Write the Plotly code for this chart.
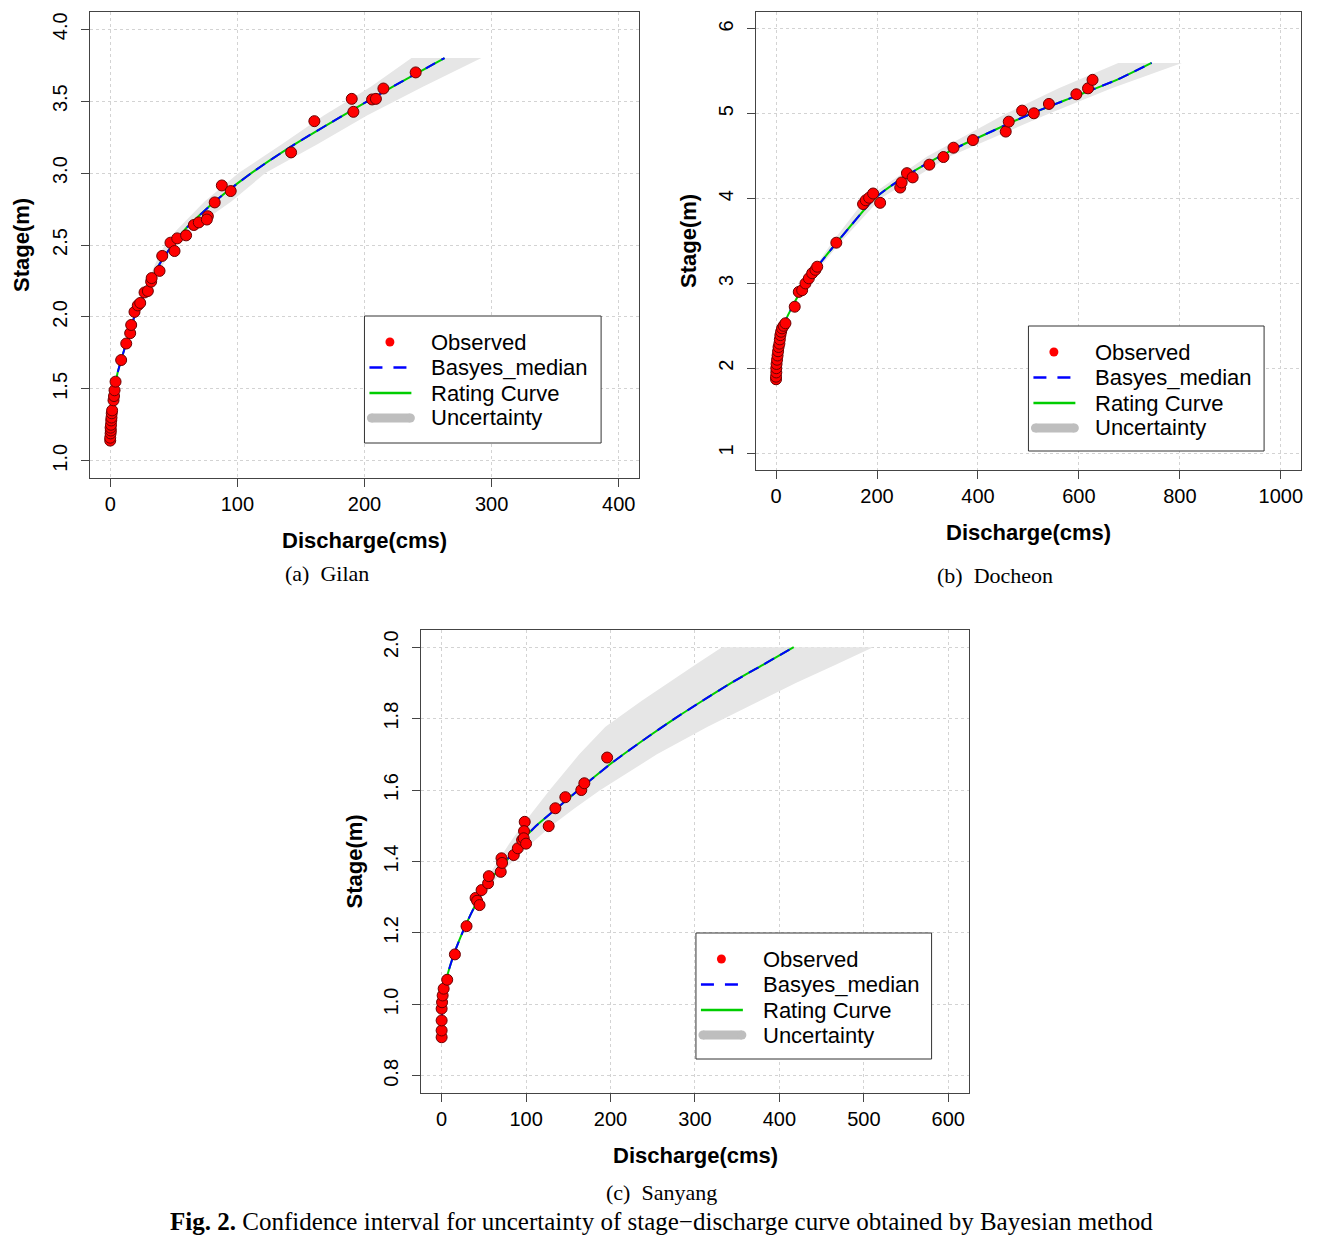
import plotly.graph_objects as go

# ---------------- data ----------------
# (a) Gilan
gilan_obs_q = [0, 0, 0.3, 0.5, 0.3, 0.6, 0.8, 1.0, 1.2, 1.5, 2.6, 3.0, 3.4, 4.2,
               8.6, 12.6, 15.7, 16.5, 19.1, 21.7, 23.6, 27.0, 29.6, 32.2, 32.6, 38.8, 40.9,
               47.4, 50.6, 52.7, 59.7, 65.8, 69.7, 76.8, 76.0, 82.2, 87.8, 94.8, 142.3,
               160.6, 190.0, 191.3, 206.0, 209.0, 214.9, 240.3]
gilan_obs_h = [1.14, 1.16, 1.19, 1.21, 1.23, 1.25, 1.28, 1.30, 1.33, 1.35, 1.42, 1.45, 1.49, 1.55,
               1.70, 1.815, 1.887, 1.944, 2.035, 2.08, 2.097, 2.17, 2.18, 2.245, 2.27, 2.32, 2.424,
               2.516, 2.458, 2.546, 2.567, 2.639, 2.657, 2.70, 2.677, 2.796, 2.914, 2.875, 3.144,
               3.361, 3.516, 3.426, 3.512, 3.516, 3.588, 3.70]
gilan_curve_h = [1.12, 1.2, 1.4, 1.6, 1.8, 2.0, 2.2, 2.4, 2.6, 2.8, 3.0, 3.2, 3.4, 3.6, 3.8]
gilan_curve_q = [0, 0.5, 2, 5.5, 12, 19, 29, 41, 58, 82, 111, 145, 183, 222, 263]
gilan_band_h = [1.9, 2.0, 2.2, 2.4, 2.5, 2.6, 2.8, 3.0, 3.2, 3.4, 3.6, 3.8]
gilan_band_lo = [15.5, 18.5, 27, 37, 43, 52, 74, 101, 135, 168, 205, 237]
gilan_band_hi = [15.5, 19.5, 31, 44, 51, 63, 95, 122, 163, 202, 246, 292]

# (b) Docheon
docheon_obs_q = [0, 0, 0.5, 0.5, 1, 2, 3, 4, 5, 6.6, 7.5, 8.6, 10, 11.9, 15, 18.6,
                 37, 45, 51.7, 58.3, 65, 71.6, 78, 81.6, 119.4, 172.4, 177.7, 184.4, 192.3,
                 206.2, 246, 248.8, 259.3, 270.6, 303.7, 331.6, 351.5, 390, 455, 461, 487.5,
                 510.7, 540.6, 595, 618, 627]
docheon_obs_h = [1.87, 1.90, 1.95, 2.0, 2.05, 2.1, 2.15, 2.2, 2.25, 2.29, 2.34, 2.39, 2.43, 2.47, 2.5, 2.53,
                 2.725, 2.90, 2.92, 3.0, 3.06, 3.12, 3.16, 3.197, 3.48, 3.936, 3.98, 4.01, 4.06,
                 3.95, 4.13, 4.19, 4.30, 4.25, 4.40, 4.49, 4.60, 4.69, 4.79, 4.907, 5.037,
                 5.006, 5.116, 5.23, 5.30, 5.40]
docheon_curve_h = [1.85, 2.0, 2.2, 2.5, 2.7, 3.0, 3.2, 3.5, 4.0, 4.2, 4.4, 4.6, 4.8, 5.0, 5.2, 5.4, 5.6]
docheon_curve_q = [0, 0.5, 3, 14, 30, 58, 82, 123, 195, 240, 295, 358, 430, 505, 590, 675, 744]
docheon_band_h = [2.7, 3.0, 3.5, 4.0, 4.5, 5.0, 5.3, 5.6]
docheon_band_lo = [30, 55, 113, 178, 300, 455, 560, 678]
docheon_band_hi = [30, 60, 130, 207, 345, 540, 665, 804]

# (c) Sanyang
sanyang_obs_q = [0, 0, 0, 0, 0.5, 1.2, 2.4, 6.6, 15.7, 29.5, 40.2, 42, 44.9, 47.3, 55, 55.9,
                 70, 70.9, 71.6, 85.4, 90.2, 95.3, 98.4, 97.6, 97.2, 100, 126.8, 134.7, 146.5,
                 165.4, 169, 196]
sanyang_obs_h = [0.908, 0.927, 0.955, 0.988, 1.006, 1.025, 1.044, 1.069, 1.14, 1.219, 1.298, 1.29,
                 1.278, 1.32, 1.339, 1.359, 1.371, 1.409, 1.396, 1.418, 1.437, 1.46, 1.511, 1.485,
                 1.465, 1.45, 1.499, 1.549, 1.58, 1.60, 1.619, 1.691]
sanyang_curve_h = [0.95, 1.0, 1.05, 1.1, 1.15, 1.2, 1.25, 1.3, 1.35, 1.4, 1.45, 1.5, 1.55, 1.6,
                   1.675, 1.75, 1.8, 1.85, 1.9, 1.95, 2.0]
sanyang_curve_q = [0, 1, 3.5, 9, 16, 24.5, 34, 45, 58, 76, 92, 112, 137, 162, 201, 245, 276, 309,
                   343, 380, 417]
sanyang_band_h = [1.25, 1.3, 1.35, 1.4, 1.45, 1.5, 1.55, 1.6, 1.7, 1.777, 1.85, 1.9, 1.95, 2.0]
sanyang_band_lo = [33, 42, 53, 66, 80, 95, 111, 128, 163, 194, 237, 268, 300, 332]
sanyang_band_hi = [35, 48, 64, 84, 106, 130, 158, 188, 255, 315, 377, 420, 466, 511]

legend_labels = ["Observed", "Basyes_median", "Rating Curve", "Uncertainty"]

# ---------------- figure geometry ----------------
FW, FH = 1311, 1228   # page body has 8px margin in the 1327x1244 window


def X(px):
    return (px - 8) / FW


def Y(py):
    return 1 - (py - 8) / FH


SANS = "Liberation Sans, Arial, sans-serif"
SERIF = "Liberation Serif, Times New Roman, serif"

panels = [
    dict(q=gilan_obs_q, h=gilan_obs_h, cq=gilan_curve_q, ch=gilan_curve_h,
         bh=gilan_band_h, blo=gilan_band_lo, bhi=gilan_band_hi,
         xdom=[X(90), X(640)], ydom=[Y(478), Y(12)],
         xr=[-16, 416], yr=[0.88, 4.12],
         xt=[0, 100, 200, 300, 400], yt=[1.0, 1.5, 2.0, 2.5, 3.0, 3.5, 4.0], yfmt=".1f",
         leg=(365, 316, 602, 443)),
    dict(q=docheon_obs_q, h=docheon_obs_h, cq=docheon_curve_q, ch=docheon_curve_h,
         bh=docheon_band_h, blo=docheon_band_lo, bhi=docheon_band_hi,
         xdom=[X(757), X(1303)], ydom=[Y(470), Y(12)],
         xr=[-40, 1040], yr=[0.8, 6.2],
         xt=[0, 200, 400, 600, 800, 1000], yt=[1, 2, 3, 4, 5, 6], yfmt="d",
         leg=(1030, 326, 1266, 451)),
    dict(q=sanyang_obs_q, h=sanyang_obs_h, cq=sanyang_curve_q, ch=sanyang_curve_h,
         bh=sanyang_band_h, blo=sanyang_band_lo, bhi=sanyang_band_hi,
         xdom=[X(422), X(970)], ydom=[Y(1093), Y(630)],
         xr=[-24, 624], yr=[0.752, 2.048],
         xt=[0, 100, 200, 300, 400, 500, 600], yt=[0.8, 1.0, 1.2, 1.4, 1.6, 1.8, 2.0], yfmt=".1f",
         leg=(697, 933, 933, 1059)),
]

fig = go.Figure()
layout = dict(width=FW, height=FH, autosize=False,
              margin=dict(l=0, r=0, t=0, b=0),
              paper_bgcolor="white", plot_bgcolor="white",
              font=dict(family=SANS, size=20, color="black"),
              showlegend=False, annotations=[], shapes=[])

for i, p in enumerate(panels):
    sfx = "" if i == 0 else str(i + 1)
    xa, ya = "x" + sfx, "y" + sfx
    # uncertainty band
    fig.add_trace(go.Scatter(
        x=p["blo"] + p["bhi"][::-1], y=p["bh"] + p["bh"][::-1],
        fill="toself", fillcolor="#e6e6e6", mode="lines", line=dict(width=0, color="#e6e6e6"),
        name=legend_labels[3], hoverinfo="skip", xaxis=xa, yaxis=ya))
    # rating curve
    fig.add_trace(go.Scatter(
        x=p["cq"], y=p["ch"], mode="lines", name=legend_labels[2],
        line=dict(color="#00CD00", width=2, shape="spline", smoothing=0.6), xaxis=xa, yaxis=ya))
    # bayes median
    fig.add_trace(go.Scatter(
        x=p["cq"], y=p["ch"], mode="lines", name=legend_labels[1],
        line=dict(color="#0000FF", width=2, dash="11px,7px", shape="spline", smoothing=0.6),
        xaxis=xa, yaxis=ya))
    # observed
    fig.add_trace(go.Scatter(
        x=p["q"], y=p["h"], mode="markers", name=legend_labels[0],
        marker=dict(color="#FF0000", size=11, line=dict(color="#6a0000", width=1)),
        xaxis=xa, yaxis=ya))

    axis_common = dict(showline=True, mirror=True, linecolor="#444", linewidth=1,
                       ticks="outside", ticklen=8, tickcolor="#444", tickwidth=1,
                       showgrid=True, gridcolor="#d3d3d3", griddash="dot", gridwidth=1,
                       zeroline=False, tickfont=dict(size=20, family=SANS, color="black"))
    layout["xaxis" + sfx] = dict(domain=p["xdom"], range=p["xr"], tickmode="array",
                                 tickvals=p["xt"], anchor=ya, ticklabelstandoff=0, **axis_common)
    layout["yaxis" + sfx] = dict(domain=p["ydom"], range=p["yr"], tickmode="array",
                                 tickvals=p["yt"], tickformat=p["yfmt"], tickangle=-90,
                                 anchor=xa, ticklabelstandoff=6, **axis_common)

    # ---- legend box (drawn like R's legend()) ----
    L, T, R, B = p["leg"]
    rows = [T + 26, T + 51.5, T + 77, T + 102]
    shp = layout["shapes"]
    shp.append(dict(type="rect", xref="paper", yref="paper", x0=X(L), x1=X(R), y0=Y(B), y1=Y(T),
                    line=dict(color="#333", width=1), fillcolor="white", layer="above"))
    # observed dot
    r = 4.5
    shp.append(dict(type="circle", xref="paper", yref="paper",
                    x0=X(L + 25.5 - r), x1=X(L + 25.5 + r), y0=Y(rows[0] + r), y1=Y(rows[0] - r),
                    line=dict(width=0), fillcolor="#FF0000", layer="above"))
    # median dashed
    shp.append(dict(type="line", xref="paper", yref="paper", x0=X(L + 5), x1=X(L + 47),
                    y0=Y(rows[1]), y1=Y(rows[1]),
                    line=dict(color="#0000FF", width=2.5, dash="13px,11px"), layer="above"))
    # rating curve solid
    shp.append(dict(type="line", xref="paper", yref="paper", x0=X(L + 5), x1=X(L + 47),
                    y0=Y(rows[2]), y1=Y(rows[2]),
                    line=dict(color="#00CD00", width=2.5), layer="above"))
    # uncertainty thick grey with round ends
    gw = 9
    shp.append(dict(type="line", xref="paper", yref="paper", x0=X(L + 7), x1=X(L + 46),
                    y0=Y(rows[3]), y1=Y(rows[3]),
                    line=dict(color="#bebebe", width=gw), layer="above"))
    for cx in (L + 7, L + 46):
        shp.append(dict(type="circle", xref="paper", yref="paper",
                        x0=X(cx - gw / 2), x1=X(cx + gw / 2),
                        y0=Y(rows[3] + gw / 2), y1=Y(rows[3] - gw / 2),
                        line=dict(width=0), fillcolor="#bebebe", layer="above"))
    for lab, ry in zip(legend_labels, rows):
        layout["annotations"].append(dict(
            text=lab, x=X(L + 65), y=Y(ry), xref="paper", yref="paper", showarrow=False,
            xanchor="left", yanchor="middle", font=dict(size=22, family=SANS, color="black")))

# axis titles and captions
texts = [
    ("<b>Discharge(cms)</b>", 365, 540, 0, 22, SANS),
    ("<b>Stage(m)</b>", 22, 245, -90, 22, SANS),
    ("(a)  Gilan", 327, 573, 0, 22, SERIF),
    ("<b>Discharge(cms)</b>", 1030, 532, 0, 22, SANS),
    ("<b>Stage(m)</b>", 690, 241, -90, 22, SANS),
    ("(b)  Docheon", 997, 575, 0, 22, SERIF),
    ("<b>Discharge(cms)</b>", 697, 1155, 0, 22, SANS),
    ("<b>Stage(m)</b>", 355, 861, -90, 22, SANS),
    ("(c)  Sanyang", 662, 1192, 0, 22, SERIF),
]
for t, px, py, ang, fs, fam in texts:
    layout["annotations"].append(dict(
        text=t, x=X(px), y=Y(py), xref="paper", yref="paper", showarrow=False,
        xanchor="center", yanchor="middle", textangle=ang,
        font=dict(size=fs, family=fam, color="black")))
layout["annotations"].append(dict(
    text="<b>Fig. 2.</b> Confidence interval for uncertainty of stage\u2212discharge curve obtained by Bayesian method",
    x=X(662), y=0, xref="paper", yref="paper", showarrow=False, borderpad=0,
    xanchor="center", yanchor="bottom", font=dict(size=25, family=SERIF, color="black")))

fig.update_layout(**layout)
fig.write_html("out.html")
